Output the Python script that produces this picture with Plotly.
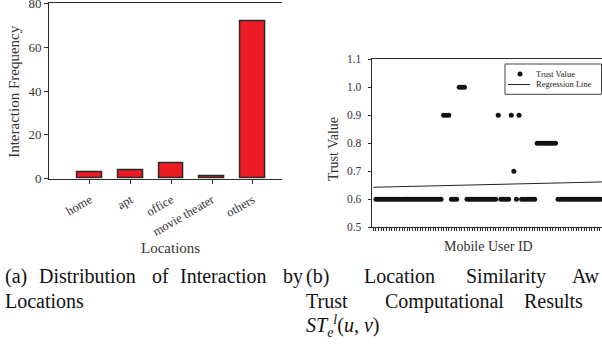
import plotly.graph_objects as go

# ---------------- data ----------------
locations = ["home", "apt", "office", "movie theater", "others"]
interaction_freq = [3, 4, 7, 1, 72]

user_ids = list(range(1, 89))
trust_values = [
    0.6, 0.6, 0.6, 0.6, 0.6, 0.6, 0.6, 0.6, 0.6, 0.6,
    0.6, 0.6, 0.6, 0.6, 0.6, 0.6, 0.6, 0.6, 0.6, 0.6,
    0.6, 0.6, 0.6, 0.6, 0.6, 0.6, 0.9, 0.9, 0.9, 0.6,
    0.6, 0.6, 1.0, 1.0, 1.0, 0.6, 0.6, 0.6, 0.6, 0.6,
    0.6, 0.6, 0.6, 0.6, 0.6, 0.6, 0.6, 0.9, 0.6, 0.6,
    0.6, 0.6, 0.9, 0.7, 0.6, 0.9, 0.6, 0.6, 0.6, 0.6,
    0.6, 0.6, 0.8, 0.8, 0.8, 0.8, 0.8, 0.8, 0.8, 0.8,
    0.6, 0.6, 0.6, 0.6, 0.6, 0.6, 0.6, 0.6, 0.6, 0.6,
    0.6, 0.6, 0.6, 0.6, 0.6, 0.6, 0.6, 0.6,
]
regression_x = [0, 88]
regression_y = [0.643, 0.662]

y_ticks_left = [0, 20, 40, 60, 80]
y_ticks_right = [0.5, 0.6, 0.7, 0.8, 0.9, 1.0, 1.1]

legend_labels = ["Trust Value", "Regression Line"]

# ---------------- figure ----------------
W, H = 602, 349
SERIF = "Liberation Serif, Times New Roman, Times, serif"
AX = "#2b2b2b"
TXT = "#333333"

def px(x):
    return x / W

def py(y):
    return 1 - y / H

fig = go.Figure()

fig.add_trace(go.Bar(
    x=locations, y=interaction_freq, width=0.61,
    marker=dict(color="#ED1C24", line=dict(color="#2a2a2a", width=1.5)),
    xaxis="x", yaxis="y", showlegend=False,
))

fig.add_trace(go.Scatter(
    x=user_ids, y=trust_values, mode="markers", name=legend_labels[0],
    marker=dict(color="#111111", size=5),
    xaxis="x2", yaxis="y2", showlegend=False,
))
fig.add_trace(go.Scatter(
    x=regression_x, y=regression_y, mode="lines", name=legend_labels[1],
    line=dict(color="#222222", width=1),
    xaxis="x2", yaxis="y2", showlegend=False,
))

fig.update_layout(
    width=W, height=H,
    margin=dict(l=0, r=0, t=0, b=0, autoexpand=False),
    paper_bgcolor="white", plot_bgcolor="white",
    font=dict(family=SERIF, color=TXT),
    bargap=0,
    showlegend=False,
    xaxis=dict(
        domain=[px(49.3), px(282)],
        type="category", categoryorder="array", categoryarray=locations,
        range=[-1, 4.72], automargin=False,
        showline=True, linecolor=AX, linewidth=1.2, mirror=True,
        ticks="outside", ticklen=4, tickcolor=AX, tickwidth=1,
        tickangle=-30, tickfont=dict(size=12.5, family=SERIF, color=TXT),
        ticklabelstandoff=4, ticklabeloverflow="allow",
        showgrid=False, zeroline=False,
        anchor="y",
    ),
    yaxis=dict(
        domain=[py(178.7), py(3.3)],
        range=[0, 80], tickvals=y_ticks_left, automargin=False,
        showline=True, linecolor=AX, linewidth=1.2,
        ticks="outside", ticklen=4, tickcolor=AX, tickwidth=1,
        tickfont=dict(size=13, family=SERIF, color=TXT),
        ticklabeloverflow="allow",
        showgrid=False, zeroline=False,
        anchor="x",
    ),
    xaxis2=dict(
        domain=[px(371.7), 1.0],
        range=[-0.65, 87.9], automargin=False,
        tick0=1, dtick=1,
        showticklabels=False,
        showline=True, linecolor=AX, linewidth=1.2, mirror=True,
        ticks="outside", ticklen=3, tickcolor=AX, tickwidth=0.8,
        showgrid=False, zeroline=False,
        anchor="y2",
    ),
    yaxis2=dict(
        domain=[py(227.3), py(59.3)],
        range=[0.5, 1.1], tickvals=y_ticks_right, tickformat=".1f",
        automargin=False,
        showline=True, linecolor=AX, linewidth=1.2,
        ticks="outside", ticklen=3, tickcolor=AX, tickwidth=1,
        tickfont=dict(size=11.5, family=SERIF, color=TXT),
        ticklabelstandoff=4, ticklabeloverflow="allow",
        showgrid=False, zeroline=False,
        anchor="x2",
    ),
)

annotations = []

def ann(text, x, y, size, angle=0, xanchor="center", color=TXT):
    annotations.append(dict(
        text=text, x=px(x), y=py(y), xref="paper", yref="paper",
        showarrow=False, textangle=angle, xanchor=xanchor, yanchor="middle",
        font=dict(size=size, family=SERIF, color=color),
    ))

# axis titles
ann("Interaction Frequency", 13.3, 91.5, 15, angle=-90)
ann("Locations", 171, 248, 15)
ann("Trust Value", 333.3, 148.8, 14, angle=-90)
ann("Mobile User ID", 488.8, 246.7, 14)

# legend (box, symbols, labels)
shapes = [
    dict(type="rect", xref="paper", yref="paper",
         x0=px(505), x1=px(601.5), y0=py(94.3), y1=py(64),
         line=dict(color="#444444", width=1), fillcolor="white", layer="above"),
    dict(type="circle", xref="paper", yref="paper",
         x0=px(517.7), x1=px(522.3), y0=py(76.3), y1=py(71.7),
         line=dict(color="#111111", width=0.5), fillcolor="#111111", layer="above"),
    dict(type="line", xref="paper", yref="paper",
         x0=px(508), x1=px(530), y0=py(84.5), y1=py(84.5),
         line=dict(color="#222222", width=1), layer="above"),
]
ann(legend_labels[0], 534, 74, 8.5, xanchor="left", color="#222222")
ann(legend_labels[1], 534, 84.5, 8.5, xanchor="left", color="#222222")

# captions (justified word by word)
CAP = 20
cap_rows = [
    (276, [("(a)", 3), ("Distribution", 37.2), ("of", 149.6), ("Interaction", 178), ("by", 280.5),
           ("(b)", 304), ("Location", 362), ("Similarity", 464), ("Aw", 570)]),
    (301, [("Locations", 3), ("Trust", 304), ("Computational", 383.3), ("Results", 521.7)]),
    (326, [("<i>ST</i><sub><i>e</i></sub><sup><i>l</i></sup>(<i>u</i>, <i>v</i>)", 304)]),
]
for yy, words in cap_rows:
    for w, xx in words:
        ann(w, xx, yy, CAP, xanchor="left", color="#111111")

fig.update_layout(annotations=annotations, shapes=shapes)

fig.write_html(
    "out.html",
    config={"displayModeBar": False},
    post_script="document.body.style.margin='0';document.body.style.padding='0';document.body.style.overflow='hidden';",
)
